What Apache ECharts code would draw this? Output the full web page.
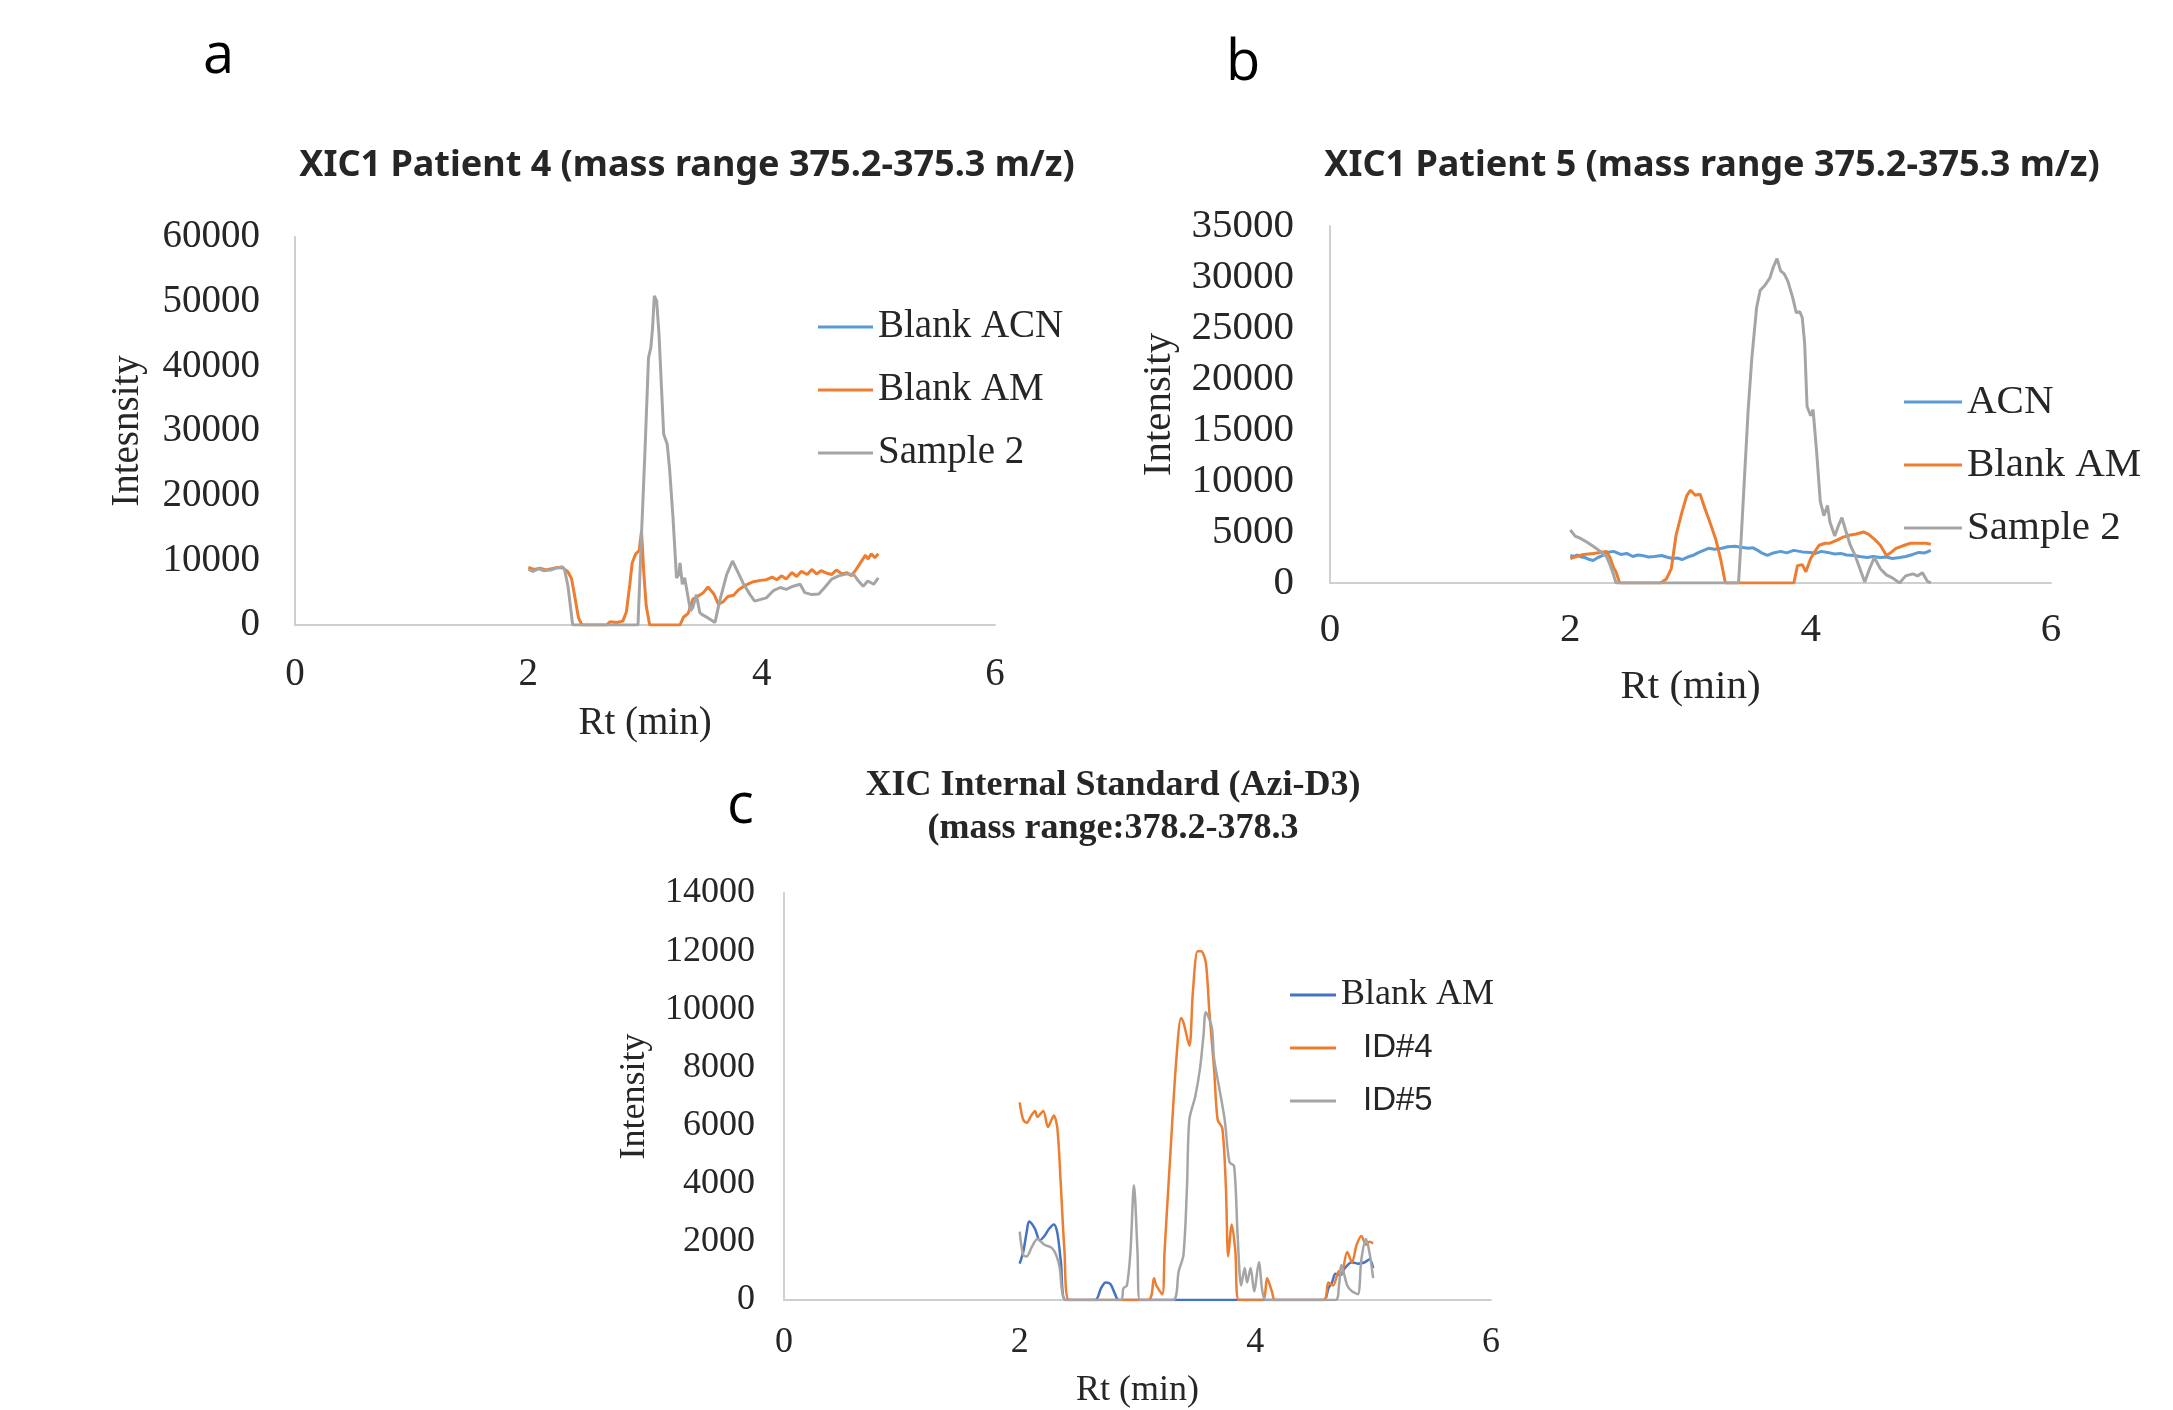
<!DOCTYPE html>
<html>
<head>
<meta charset="utf-8">
<script src="https://cdn.jsdelivr.net/npm/echarts@6/dist/echarts.min.js"></script>
<style>
html,body{margin:0;padding:0;background:#fff;}
#chart{width:2173px;height:1410px;}
</style>
</head>
<body>
<div id="chart"></div>
<script>
// ---------- Panel a : XIC1 Patient 4 ----------
const aTitle = 'XIC1 Patient 4 (mass range 375.2-375.3 m/z)';
const aNames = ['Blank ACN', 'Blank AM', 'Sample 2'];
const aBlankACN = [];
const aBlankAM = [[2.00,8900],[2.05,8600],[2.10,8800],[2.15,8500],[2.20,8700],[2.25,8900],[2.30,8800],[2.34,8200],[2.37,7200],[2.40,4200],[2.43,1100],[2.46,0],[2.67,0],[2.70,500],[2.76,400],[2.81,600],[2.84,2000],[2.87,6300],[2.89,9600],[2.92,11000],[2.95,11500],[2.97,14500],[2.99,8000],[3.01,3000],[3.04,0],[3.30,0],[3.33,1200],[3.37,1800],[3.41,4000],[3.45,4400],[3.50,5000],[3.54,5900],[3.59,4800],[3.63,3200],[3.67,3600],[3.71,4400],[3.76,4600],[3.80,5400],[3.84,5900],[3.89,6400],[3.93,6700],[3.99,6900],[4.04,7000],[4.09,7400],[4.13,7000],[4.17,7600],[4.21,7100],[4.26,8100],[4.30,7500],[4.34,8300],[4.39,7800],[4.43,8600],[4.47,7900],[4.51,8400],[4.56,8000],[4.60,7800],[4.64,8500],[4.69,7900],[4.73,8100],[4.77,7600],[4.81,8600],[4.86,10000],[4.89,10800],[4.91,10200],[4.94,11000],[4.97,10400],[5.00,11000]];
const aSample2 = [[2.00,8600],[2.04,8300],[2.09,8700],[2.13,8400],[2.19,8500],[2.24,8800],[2.29,9000],[2.31,8600],[2.34,6000],[2.36,3000],[2.38,0],[2.94,0],[2.97,14000],[3.00,27000],[3.03,41300],[3.05,42900],[3.065,46000],[3.08,50900],[3.10,50100],[3.12,45000],[3.14,37200],[3.16,29500],[3.19,28000],[3.21,24300],[3.24,16600],[3.27,7300],[3.29,7800],[3.30,9600],[3.32,6300],[3.34,7300],[3.37,4200],[3.39,2200],[3.41,2700],[3.44,4700],[3.47,1900],[3.49,1600],[3.54,1100],[3.60,400],[3.64,3700],[3.70,7800],[3.75,9900],[3.79,8400],[3.84,6500],[3.90,4700],[3.94,3700],[4.00,4000],[4.04,4200],[4.10,5300],[4.16,5800],[4.21,5500],[4.27,6000],[4.33,6300],[4.37,5000],[4.43,4700],[4.49,4800],[4.54,5800],[4.60,7100],[4.66,7600],[4.73,7900],[4.79,7800],[4.83,6800],[4.87,6000],[4.91,6800],[4.96,6300],[5.00,7300]];

// ---------- Panel b : XIC1 Patient 5 ----------
const bTitle = 'XIC1 Patient 5 (mass range 375.2-375.3 m/z)';
const bNames = ['ACN', 'Blank AM', 'Sample 2'];
const bACN = [[2.00,2700],[2.03,2600],[2.06,2750],[2.09,2550],[2.12,2500],[2.16,2300],[2.19,2200],[2.23,2500],[2.27,2700],[2.30,3000],[2.36,3100],[2.39,2950],[2.42,2800],[2.47,2900],[2.52,2600],[2.56,2750],[2.60,2700],[2.65,2550],[2.70,2600],[2.76,2700],[2.80,2550],[2.85,2400],[2.89,2450],[2.93,2300],[2.99,2600],[3.03,2750],[3.07,3000],[3.11,3200],[3.15,3400],[3.20,3300],[3.26,3400],[3.31,3550],[3.37,3600],[3.42,3500],[3.48,3400],[3.52,3450],[3.56,3200],[3.60,2900],[3.64,2700],[3.69,2950],[3.75,3100],[3.80,2950],[3.86,3200],[3.93,3050],[4.00,3000],[4.04,2900],[4.09,3100],[4.14,3000],[4.20,2850],[4.25,2900],[4.30,2750],[4.36,2700],[4.41,2600],[4.47,2500],[4.52,2600],[4.58,2500],[4.63,2550],[4.68,2400],[4.74,2500],[4.79,2600],[4.85,2800],[4.90,3000],[4.95,2950],[5.00,3200]];
const bBlankAM = [[2.00,2400],[2.05,2600],[2.11,2800],[2.19,2900],[2.25,3000],[2.30,3100],[2.33,2500],[2.36,1500],[2.38,1100],[2.41,0],[2.75,0],[2.80,400],[2.84,1400],[2.88,4700],[2.93,7000],[2.97,8600],[3.00,9100],[3.04,8600],[3.08,8700],[3.12,7300],[3.16,6000],[3.21,4300],[3.25,2400],[3.29,0],[3.86,0],[3.89,1700],[3.93,1800],[3.96,1100],[4.00,2400],[4.03,3000],[4.07,3700],[4.12,3900],[4.16,3900],[4.22,4200],[4.27,4500],[4.33,4700],[4.38,4800],[4.44,5000],[4.48,4800],[4.53,4300],[4.58,3700],[4.63,2700],[4.67,3000],[4.71,3400],[4.78,3700],[4.83,3900],[4.89,3900],[4.96,3900],[5.00,3800]];
const bSample2 = [[2.00,5200],[2.04,4600],[2.08,4400],[2.14,4000],[2.19,3600],[2.25,3100],[2.30,2600],[2.33,1800],[2.36,800],[2.38,0],[3.40,0],[3.42,4000],[3.45,10500],[3.48,17000],[3.51,22000],[3.55,27000],[3.58,28700],[3.62,29200],[3.66,29900],[3.69,31000],[3.72,31800],[3.75,30600],[3.78,30300],[3.81,29600],[3.85,28000],[3.88,26500],[3.91,26600],[3.93,26000],[3.95,23500],[3.97,17300],[4.00,16400],[4.02,17000],[4.05,12800],[4.08,8000],[4.11,6600],[4.14,7600],[4.16,6000],[4.20,4600],[4.23,5600],[4.26,6400],[4.29,5200],[4.33,3700],[4.37,2700],[4.41,1400],[4.45,100],[4.49,1400],[4.53,2500],[4.58,1400],[4.63,800],[4.68,500],[4.74,0],[4.79,700],[4.85,900],[4.89,700],[4.93,1000],[4.97,200],[5.00,0]];

// ---------- Panel c : XIC Internal Standard ----------
const cTitle = 'XIC Internal Standard (Azi-D3)\n(mass range:378.2-378.3';
const cNames = ['Blank AM', 'ID#4', 'ID#5'];
const cBlankAM = [[2.00,1250],[2.03,1650],[2.06,2350],[2.08,2700],[2.13,2450],[2.17,2050],[2.21,2200],[2.25,2450],[2.29,2600],[2.32,2300],[2.35,1300],[2.39,0],[2.64,0],[2.69,400],[2.73,600],[2.77,550],[2.81,200],[2.84,0],[4.58,0],[4.62,400],[4.65,600],[4.68,900],[4.72,850],[4.76,1100],[4.82,1300],[4.87,1250],[4.93,1300],[4.97,1400],[5.00,1100]];
const cID4 = [[2.00,6800],[2.03,6200],[2.06,6100],[2.10,6350],[2.13,6500],[2.15,6300],[2.20,6500],[2.24,5950],[2.27,6200],[2.29,6350],[2.32,5900],[2.35,3900],[2.38,1700],[2.42,0],[3.09,0],[3.14,750],[3.16,500],[3.21,200],[3.23,1700],[3.28,5100],[3.33,8300],[3.37,9700],[3.39,9550],[3.44,8750],[3.47,10600],[3.51,12000],[3.54,12000],[3.58,11600],[3.61,9900],[3.65,7950],[3.68,6200],[3.72,5900],[3.75,3900],[3.77,1500],[3.80,2600],[3.83,1700],[3.86,0],[4.06,0],[4.10,750],[4.14,300],[4.17,0],[4.58,0],[4.62,600],[4.66,500],[4.71,1000],[4.73,900],[4.78,1650],[4.82,1300],[4.86,1900],[4.90,2200],[4.94,1900],[4.97,2000],[5.00,1950]];
const cID5 = [[2.00,2350],[2.03,1550],[2.06,1500],[2.10,1800],[2.15,2100],[2.21,1900],[2.27,1800],[2.31,1550],[2.34,1100],[2.36,300],[2.39,0],[2.86,0],[2.88,400],[2.91,500],[2.94,1650],[2.97,3950],[3.00,1650],[3.02,0],[3.30,0],[3.35,1000],[3.39,1550],[3.42,3900],[3.44,6200],[3.49,7000],[3.53,7950],[3.56,9100],[3.58,9900],[3.63,9400],[3.65,8300],[3.70,7150],[3.74,6200],[3.78,4750],[3.82,4600],[3.85,2200],[3.88,500],[3.91,1100],[3.93,600],[3.96,1100],[3.99,300],[4.03,1300],[4.06,300],[4.09,0],[4.68,0],[4.71,500],[4.73,1200],[4.78,500],[4.82,300],[4.87,200],[4.90,1400],[4.94,2100],[4.97,1600],[5.00,750]];

// axis ranges
const xRange = {min: 0, max: 6, interval: 2};
const aY = {min: 0, max: 60000, interval: 10000};
const bY = {min: 0, max: 35000, interval: 5000};
const cY = {min: 0, max: 14000, interval: 2000};

const BLUE = '#5B9BD5', BLUE_C = '#4472C4', ORANGE = '#ED7D31', GRAY = '#A5A5A5';
const SERIF = '"Liberation Serif", "Times New Roman", serif';
const SANS = '"Liberation Sans", Arial, sans-serif';
const TXT = '#262626';
const AXC = '#CFCFCF';

function xAxisOf(grid, fs, margin, gap) {
  return Object.assign({
    type: 'value', gridIndex: grid,
    name: 'Rt (min)', nameLocation: 'middle', nameGap: gap,
    nameTextStyle: {fontFamily: SERIF, fontSize: fs, color: TXT},
    axisLine: {show: true, lineStyle: {color: AXC, width: 2}},
    axisTick: {show: false}, splitLine: {show: false},
    axisLabel: {fontFamily: SERIF, fontSize: fs, color: TXT, margin: margin}
  }, xRange);
}
function yAxisOf(grid, range, name, fs, margin, gap) {
  return Object.assign({
    type: 'value', gridIndex: grid,
    name: name, nameLocation: 'middle', nameRotate: 90, nameGap: gap,
    nameTextStyle: {fontFamily: SERIF, fontSize: fs, color: TXT},
    axisLine: {show: true, lineStyle: {color: AXC, width: 2}},
    axisTick: {show: false}, splitLine: {show: false},
    axisLabel: {fontFamily: SERIF, fontSize: fs, color: TXT, margin: margin, formatter: v => String(v)}
  }, range);
}
function line(name, data, idx, color, width, smooth) {
  return {
    type: 'line', name: name, data: data, xAxisIndex: idx, yAxisIndex: idx,
    showSymbol: false, symbol: 'none', smooth: smooth, animation: false,
    lineStyle: {color: color, width: width}, itemStyle: {color: color}
  };
}

const chart = echarts.init(document.getElementById('chart'), null, {renderer: 'canvas'});
chart.setOption({
  backgroundColor: '#ffffff',
  animation: false,
  title: [
    {text: aTitle, left: 687, top: 148, textAlign: 'center', padding: 0,
     textStyle: {fontFamily: '"Noto Sans", sans-serif', fontWeight: 'bold', fontSize: 36, color: TXT}},
    {text: bTitle, left: 1712, top: 148, textAlign: 'center', padding: 0,
     textStyle: {fontFamily: '"Noto Sans", sans-serif', fontWeight: 'bold', fontSize: 36, color: TXT}},
    {text: cTitle, left: 1113, top: 764, textAlign: 'center', padding: 0,
     textStyle: {fontFamily: SERIF, fontWeight: 'bold', fontSize: 36, lineHeight: 43, color: TXT}}
  ],
  graphic: [
    {type: 'text', left: 203, top: 29, style: {text: 'a', font: '56px "Open Sans", sans-serif', fill: '#000'}},
    {type: 'text', left: 1226, top: 36, style: {text: 'b', font: '56px "Open Sans", sans-serif', fill: '#000'}},
    {type: 'text', left: 727, top: 779, style: {text: 'c', font: '56px "Open Sans", sans-serif', fill: '#000'}}
  ],
  legend: [
    {orient: 'vertical', left: 818, top: 307, padding: 0, itemWidth: 55, itemHeight: 3, itemGap: 23, icon: 'rect',
     selectedMode: false,
     textStyle: {fontFamily: SERIF, fontSize: 39, lineHeight: 40, color: TXT},
     data: [{name: aNames[0], itemStyle: {color: BLUE}}, {name: aNames[1], itemStyle: {color: ORANGE}}, {name: aNames[2], itemStyle: {color: GRAY}}]},
    {orient: 'vertical', left: 1904, top: 381, padding: 0, itemWidth: 58, itemHeight: 3, itemGap: 21, icon: 'rect',
     selectedMode: false,
     textStyle: {fontFamily: SERIF, fontSize: 41, lineHeight: 42, color: TXT},
     data: [{name: bNames[0], itemStyle: {color: BLUE}}, {name: bNames[1], itemStyle: {color: ORANGE}}, {name: bNames[2], itemStyle: {color: GRAY}}]},
    {orient: 'vertical', left: 1290, top: 976, padding: 0, itemWidth: 46, itemHeight: 3, itemGap: 15, icon: 'rect',
     selectedMode: false,
     formatter: n => n === 'Blank AM' ? '{s|' + n + '}' : '{t|' + n + '}',
     textStyle: {fontFamily: SERIF, fontSize: 36, lineHeight: 38, color: TXT,
       rich: {s: {fontFamily: SERIF, fontSize: 36, lineHeight: 38, color: TXT},
              t: {fontFamily: SANS, fontSize: 33, lineHeight: 38, color: TXT, padding: [0, 0, 0, 22]}}},
     data: [{name: cNames[0], itemStyle: {color: BLUE_C}}, {name: cNames[1], itemStyle: {color: ORANGE}}, {name: cNames[2], itemStyle: {color: GRAY}}]}
  ],
  grid: [
    {left: 295, top: 237, width: 700, height: 388},
    {left: 1330, top: 226, width: 721, height: 357},
    {left: 784, top: 893, width: 707, height: 408}
  ],
  xAxis: [xAxisOf(0, 39, 30, 79), xAxisOf(1, 41, 27, 84), xAxisOf(2, 36, 25, 73)],
  yAxis: [yAxisOf(0, aY, 'Intesnsity', 39, 35, 148), yAxisOf(1, bY, 'Intensity', 41, 36, 150), yAxisOf(2, cY, 'Intensity', 36, 29, 131)],
  series: [
    line(aNames[0], aBlankACN, 0, BLUE, 3, false),
    line(aNames[1], aBlankAM, 0, ORANGE, 3, false),
    line(aNames[2], aSample2, 0, GRAY, 3, false),
    line(bNames[0], bACN, 1, BLUE, 3, false),
    line(bNames[1], bBlankAM, 1, ORANGE, 3, false),
    line(bNames[2], bSample2, 1, GRAY, 3, false),
    line(cNames[0], cBlankAM, 2, BLUE_C, 2.5, 0.3),
    line(cNames[1], cID4, 2, ORANGE, 2.5, 0.3),
    line(cNames[2], cID5, 2, GRAY, 2.5, 0.3)
  ]
});
</script>
</body>
</html>
